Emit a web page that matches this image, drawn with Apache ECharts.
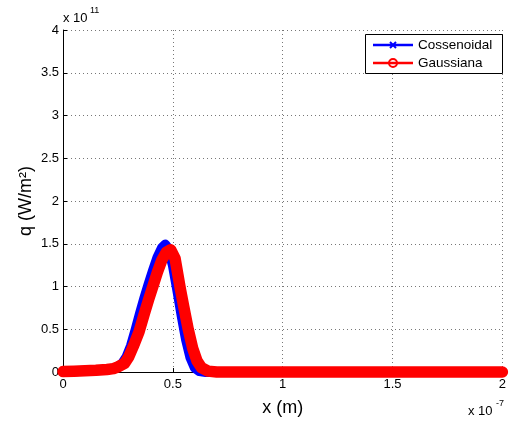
<!DOCTYPE html>
<html>
<head>
<meta charset="utf-8">
<script src="https://cdn.jsdelivr.net/npm/echarts@6/dist/echarts.min.js"></script>
<style>
html,body{margin:0;padding:0;background:#fff;}
#c{width:509px;height:422px;}
</style>
</head>
<body>
<div id="c"></div>
<script>
// x in units of 1e-7 m, q in units of 1e11 W/m^2
const cosX = [0, 0.05, 0.10, 0.15, 0.20, 0.23, 0.25, 0.27, 0.29, 0.31, 0.33, 0.35, 0.37, 0.39, 0.41, 0.43, 0.45, 0.465, 0.48, 0.50, 0.52, 0.54, 0.56, 0.58, 0.60, 0.62, 0.65, 0.80, 1.00, 1.50, 2.00];
const cosY = [0.005, 0.01, 0.015, 0.02, 0.03, 0.04, 0.06, 0.10, 0.18, 0.31, 0.49, 0.68, 0.86, 1.03, 1.19, 1.34, 1.45, 1.49, 1.44, 1.25, 0.96, 0.66, 0.38, 0.17, 0.05, 0.01, 0, 0, 0, 0, 0];
const gauX = [0, 0.05, 0.10, 0.15, 0.20, 0.23, 0.25, 0.28, 0.30, 0.32, 0.346, 0.37, 0.39, 0.41, 0.43, 0.45, 0.47, 0.49, 0.51, 0.534, 0.55, 0.57, 0.59, 0.61, 0.63, 0.66, 0.70, 1.00, 1.50, 2.00];
const gauY = [0.005, 0.01, 0.015, 0.02, 0.03, 0.04, 0.06, 0.10, 0.18, 0.30, 0.47, 0.68, 0.85, 1.01, 1.17, 1.31, 1.40, 1.43, 1.33, 0.975, 0.76, 0.50, 0.28, 0.13, 0.05, 0.01, 0, 0, 0, 0];
const xTicks = [0, 0.5, 1, 1.5, 2];
const yTicks = [0, 0.5, 1, 1.5, 2, 2.5, 3, 3.5, 4];
const seriesNames = ['Cossenoidal', 'Gaussiana'];

const font = 'Liberation Sans, Arial, sans-serif';
const chart = echarts.init(document.getElementById('c'));
const grid = {left: 63, top: 30, right: 5, bottom: 46};
const gridLine = {show: true, lineStyle: {color: '#777', type: [1, 3], width: 1}};

chart.setOption({
  animation: false,
  backgroundColor: '#fff',
  grid: grid,
  xAxis: {
    type: 'value', min: xTicks[0], max: xTicks[xTicks.length - 1], interval: 0.5,
    axisLine: {show: true, lineStyle: {color: '#000', width: 1}},
    axisTick: {show: true, inside: true, length: 4, lineStyle: {color: '#000'}},
    axisLabel: {color: '#000', fontFamily: font, fontSize: 13, margin: 6,
      formatter: v => String(v)},
    splitLine: gridLine,
    name: 'x (m)', nameLocation: 'middle', nameGap: 27, nameMoveOverlap: false,
    nameTextStyle: {color: '#000', fontFamily: font, fontSize: 18}
  },
  yAxis: {
    type: 'value', min: yTicks[0], max: yTicks[yTicks.length - 1], interval: 0.5,
    axisLine: {show: true, lineStyle: {color: '#000', width: 1}},
    axisTick: {show: true, inside: true, length: 4, lineStyle: {color: '#000'}},
    axisLabel: {color: '#000', fontFamily: font, fontSize: 13, margin: 4,
      formatter: v => String(v)},
    splitLine: gridLine,
    name: 'q (W/m²)', nameLocation: 'middle', nameGap: 28, nameRotate: 90, nameMoveOverlap: false,
    nameTextStyle: {color: '#000', fontFamily: font, fontSize: 18}
  },
  series: [
    {
      name: seriesNames[0], type: 'line', clip: false, showSymbol: false, symbol: 'none',
      data: cosX.map((x, i) => [x, cosY[i]]),
      lineStyle: {color: '#0000ff', width: 10, cap: 'round', join: 'round'},
      z: 2
    },
    {
      name: seriesNames[1], type: 'line', clip: false, showSymbol: false, symbol: 'none',
      data: gauX.map((x, i) => [x, gauY[i]]),
      lineStyle: {color: '#ff0000', width: 11.5, cap: 'round', join: 'round'},
      z: 3
    }
  ],
  graphic: [
    // exponent labels
    {type: 'text', left: 63, top: 12, style: {text: 'x 10', font: '13px ' + font, fill: '#000'}},
    {type: 'text', left: 90, top: 6, style: {text: '11', font: '9px ' + font, fill: '#000'}},
    {type: 'text', left: 468, top: 405, style: {text: 'x 10', font: '13px ' + font, fill: '#000'}},
    {type: 'text', left: 496, top: 399, style: {text: '-7', font: '9px ' + font, fill: '#000'}},
    // legend
    {type: 'rect', shape: {x: 365.5, y: 34.5, width: 137, height: 39},
      style: {fill: '#fff', stroke: '#000', lineWidth: 1}, z: 10},
    {type: 'line', shape: {x1: 373, y1: 45, x2: 413, y2: 45},
      style: {stroke: '#0000ff', lineWidth: 2.5}, z: 11},
    {type: 'line', shape: {x1: 390, y1: 42, x2: 396, y2: 48},
      style: {stroke: '#0000ff', lineWidth: 2}, z: 11},
    {type: 'line', shape: {x1: 390, y1: 48, x2: 396, y2: 42},
      style: {stroke: '#0000ff', lineWidth: 2}, z: 11},
    {type: 'text', left: 418, top: 38, style: {text: seriesNames[0], font: '13.5px ' + font, fill: '#000'}, z: 11},
    {type: 'line', shape: {x1: 373, y1: 63, x2: 413, y2: 63},
      style: {stroke: '#ff0000', lineWidth: 2.5}, z: 11},
    {type: 'circle', shape: {cx: 393, cy: 63, r: 4},
      style: {fill: 'none', stroke: '#ff0000', lineWidth: 2}, z: 11},
    {type: 'text', left: 418, top: 56, style: {text: seriesNames[1], font: '13.5px ' + font, fill: '#000'}, z: 11}
  ]
});
</script>
</body>
</html>
